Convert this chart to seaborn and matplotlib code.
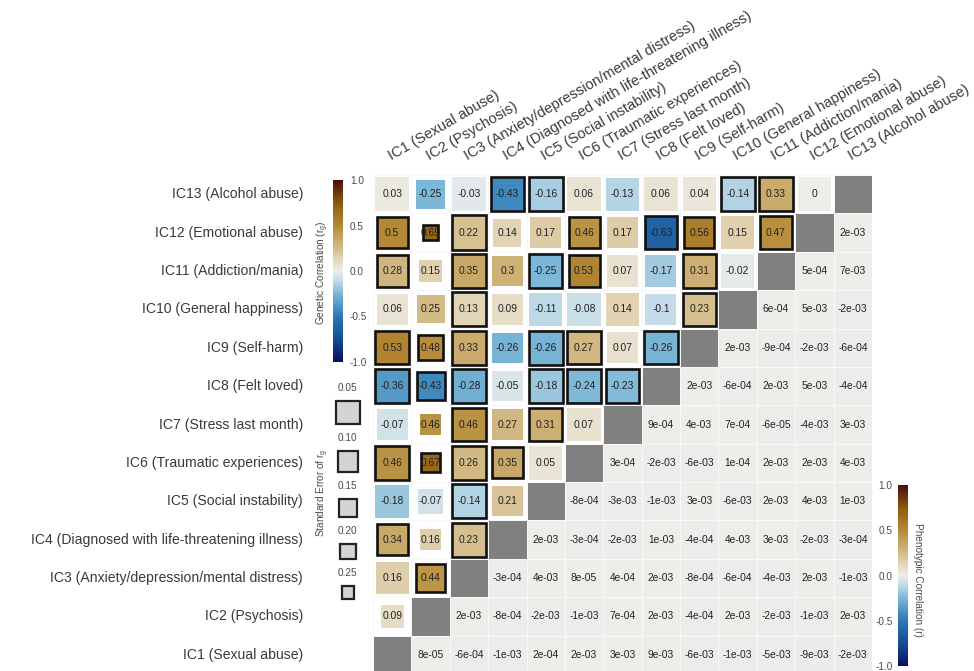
import numpy as np
import pandas as pd
import matplotlib
matplotlib.use("Agg")
import matplotlib.pyplot as plt
import seaborn as sns
from matplotlib.colors import LinearSegmentedColormap, ListedColormap, Normalize
from matplotlib.patches import Rectangle
from matplotlib.transforms import blended_transform_factory
from matplotlib.cm import ScalarMappable

# ---------------------------------------------------------------- data
traits = [
    "IC1 (Sexual abuse)",
    "IC2 (Psychosis)",
    "IC3 (Anxiety/depression/mental distress)",
    "IC4 (Diagnosed with life-threatening illness)",
    "IC5 (Social instability)",
    "IC6 (Traumatic experiences)",
    "IC7 (Stress last month)",
    "IC8 (Felt loved)",
    "IC9 (Self-harm)",
    "IC10 (General happiness)",
    "IC11 (Addiction/mania)",
    "IC12 (Emotional abuse)",
    "IC13 (Alcohol abuse)",
]

# genetic correlations: row k holds IC(k+2) against IC1 .. IC(k+1)
rg_rows = [
    [0.09],
    [0.16, 0.44],
    [0.34, 0.16, 0.23],
    [-0.18, -0.07, -0.14, 0.21],
    [0.46, 0.67, 0.26, 0.35, 0.05],
    [-0.07, 0.46, 0.46, 0.27, 0.31, 0.07],
    [-0.36, -0.43, -0.28, -0.05, -0.18, -0.24, -0.23],
    [0.53, 0.48, 0.33, -0.26, -0.26, 0.27, 0.07, -0.26],
    [0.06, 0.25, 0.13, 0.09, -0.11, -0.08, 0.14, -0.1, 0.23],
    [0.28, 0.15, 0.35, 0.3, -0.25, 0.53, 0.07, -0.17, 0.31, -0.02],
    [0.5, 0.69, 0.22, 0.14, 0.17, 0.46, 0.17, -0.63, 0.56, 0.15, 0.47],
    [0.03, -0.25, -0.03, -0.43, -0.16, 0.06, -0.13, 0.06, 0.04, -0.14, 0.33, 0],
]

# standard errors of the genetic correlations (same layout)
rg_se_rows = [
    [0.18],
    [0.05, 0.10],
    [0.07, 0.20, 0.03],
    [0.04, 0.15, 0.03, 0.08],
    [0.04, 0.23, 0.03, 0.07, 0.04],
    [0.07, 0.20, 0.04, 0.08, 0.04, 0.04],
    [0.04, 0.11, 0.03, 0.08, 0.03, 0.04, 0.04],
    [0.04, 0.15, 0.03, 0.08, 0.03, 0.04, 0.07, 0.04],
    [0.07, 0.11, 0.03, 0.07, 0.04, 0.04, 0.05, 0.07, 0.04],
    [0.07, 0.18, 0.03, 0.08, 0.04, 0.07, 0.07, 0.07, 0.04, 0.04],
    [0.07, 0.28, 0.03, 0.11, 0.07, 0.07, 0.07, 0.05, 0.08, 0.04, 0.05],
    [0.04, 0.10, 0.03, 0.04, 0.03, 0.04, 0.05, 0.04, 0.04, 0.03, 0.03, 0.04],
]

# significance of the genetic correlations (1 = significant)
rg_sig_rows = [
    [0],
    [0, 1],
    [1, 0, 1],
    [0, 0, 1, 0],
    [1, 1, 1, 1, 0],
    [0, 0, 1, 0, 1, 0],
    [1, 1, 1, 0, 1, 1, 1],
    [1, 1, 1, 0, 1, 1, 0, 1],
    [0, 0, 1, 0, 0, 0, 0, 0, 1],
    [1, 0, 1, 0, 1, 1, 0, 0, 1, 0],
    [1, 1, 1, 0, 0, 1, 0, 1, 1, 0, 1],
    [0, 0, 0, 1, 1, 0, 0, 0, 0, 1, 1, 0],
]

# phenotypic correlations: row k holds IC(k+1) against IC(k+2) .. IC13
rp_rows = [
    [8e-05, -6e-04, -1e-03, 2e-04, 2e-03, 3e-03, 9e-03, -6e-03, -1e-03, -5e-03, -9e-03, -2e-03],
    [2e-03, -8e-04, -2e-03, -1e-03, 7e-04, 2e-03, -4e-04, 2e-03, -2e-03, -1e-03, 2e-03],
    [-3e-04, 4e-03, 8e-05, 4e-04, 2e-03, -8e-04, -6e-04, -4e-03, 2e-03, -1e-03],
    [2e-03, -3e-04, -2e-03, 1e-03, -4e-04, 4e-03, 3e-03, -2e-03, -3e-04],
    [-8e-04, -3e-03, -1e-03, 3e-03, -6e-03, 2e-03, 4e-03, 1e-03],
    [3e-04, -2e-03, -6e-03, 1e-04, 2e-03, 2e-03, 4e-03],
    [9e-04, 4e-03, 7e-04, -6e-05, -4e-03, 3e-03],
    [2e-03, -6e-04, 2e-03, 5e-03, -4e-04],
    [2e-03, -9e-04, -2e-03, -6e-04],
    [6e-04, 5e-03, -2e-03],
    [5e-04, 7e-03],
    [2e-03],
]

se_legend = [0.05, 0.10, 0.15, 0.20, 0.25]
cbar_ticks = [-1.0, -0.5, 0.0, 0.5, 1.0]

# ---------------------------------------------------------------- style
sns.set_theme(style="white")
plt.rcParams["font.family"] = ["Liberation Sans", "DejaVu Sans"]
plt.rcParams["mathtext.default"] = "regular"

LABEL_C = "#3a3a3a"
TICK_C = "#4a4a4a"

cmap = LinearSegmentedColormap.from_list(
    "rg_div",
    [
        (0.000, "#0a1060"),
        (0.125, "#174d93"),
        (0.250, "#2a79b3"),
        (0.375, "#7ab6d6"),
        (0.450, "#c4dce8"),
        (0.500, "#eeeeeb"),
        (0.550, "#e6dbc3"),
        (0.625, "#d4bb88"),
        (0.750, "#b58a36"),
        (0.875, "#8c5a0c"),
        (1.000, "#4d0d0b"),
    ],
)
norm = Normalize(vmin=-1, vmax=1)

W, H = 974, 671
fig = plt.figure(figsize=(W / 100, H / 100), dpi=100)


def px_box(x0, y0, x1, y1):
    """Figure-fraction rectangle from pixel corners (origin top-left)."""
    return [x0 / W, 1 - y1 / H, (x1 - x0) / W, (y1 - y0) / H]


GRID_L, GRID_T, GRID_R = 373, 175, 872
GRID_B = GRID_T + (GRID_R - GRID_L)
cell_px = (GRID_R - GRID_L) / len(traits)

ax = fig.add_axes(px_box(GRID_L, GRID_T, GRID_R, GRID_B))
pcax = fig.add_axes(px_box(898, 485, 908, 666))
gcax = fig.add_axes(px_box(333, 180, 343, 362))

n = len(traits)
disp = traits[::-1]  # top row is IC13

# phenotypic matrix (upper-right triangle in display)
P = np.full((n, n), np.nan)
for k, vals in enumerate(rp_rows):
    for j, v in enumerate(vals):
        P[n - 1 - k, k + 1 + j] = v
P_df = pd.DataFrame(P, index=disp, columns=traits)
P_annot = np.where(np.isnan(P), "", np.vectorize(lambda v: f"{v:.0e}")(np.nan_to_num(P)))

sns.heatmap(
    P_df, ax=ax, cmap=cmap, vmin=-1, vmax=1, mask=np.isnan(P),
    annot=P_annot, fmt="", annot_kws={"fontsize": 7.4, "color": "#222222"},
    linewidths=0.7, linecolor="#f8f8f8", cbar_ax=pcax, square=False,
    xticklabels=False, yticklabels=False,
)

# diagonal tiles
D = np.full((n, n), np.nan)
for i in range(n):
    D[n - 1 - i, i] = 1.0
sns.heatmap(
    pd.DataFrame(D, index=disp, columns=traits), ax=ax,
    cmap=ListedColormap(["#808080"]), mask=np.isnan(D), cbar=False,
    linewidths=0.7, linecolor="#f8f8f8", xticklabels=False, yticklabels=False,
)

# genetic correlation squares (lower-left triangle in display)
for k, vals in enumerate(rg_rows):
    trait_i = k + 1
    row = n - 1 - trait_i
    for c, v in enumerate(vals):
        se = rg_se_rows[k][c]
        sig = rg_sig_rows[k][c]
        s = 0.95 - 2.0 * se
        ax.add_patch(Rectangle(
            (c + 0.5 - s / 2, row + 0.5 - s / 2), s, s,
            facecolor=cmap(norm(v)),
            edgecolor="#111111" if sig else "none",
            linewidth=1.9 if sig else 0, zorder=3,
        ))
        ax.text(c + 0.5, row + 0.5, f"{v:g}", ha="center", va="center",
                fontsize=7.4, color="#222222", zorder=4)

ax.set_xlim(0, n)
ax.set_ylim(n, 0)
ax.set_xticks([])
ax.set_yticks([])
for sp in ax.spines.values():
    sp.set_visible(False)

# row labels
tr = blended_transform_factory(fig.transFigure, ax.transData)
for i, name in enumerate(disp):
    ax.text(303 / W, i + 0.5, name, transform=tr, ha="right", va="center",
            fontsize=10.1, color=LABEL_C)

# column labels
for j, name in enumerate(traits):
    ax.text(j + 0.47, -0.39, name, rotation=30, rotation_mode="anchor",
            ha="left", va="baseline", fontsize=10.5, color=LABEL_C)

# phenotypic colorbar
pcb = ax.collections[0].colorbar
pcb.set_ticks(cbar_ticks)
pcb.set_ticklabels([f"{t:.1f}" for t in cbar_ticks])
pcb.outline.set_visible(False)
pcax.yaxis.set_ticks_position("left")
pcax.tick_params(length=0, pad=4, labelsize=7.2, labelcolor=TICK_C)
fig.text(918 / W, 1 - 580 / H, "Phenotypic Correlation (r)", rotation=270,
         ha="center", va="center", fontsize=7.2, color=TICK_C)

# genetic colorbar
gcb = fig.colorbar(ScalarMappable(norm=norm, cmap=cmap), cax=gcax)
gcb.set_ticks(cbar_ticks)
gcb.set_ticklabels([f"{t:.1f}" for t in cbar_ticks])
gcb.outline.set_visible(False)
gcax.yaxis.set_ticks_position("right")
gcax.tick_params(length=0, pad=5, labelsize=7.2, labelcolor=TICK_C)
fig.text(323 / W, 1 - 273 / H, "Genetic Correlation (r$_g$)", rotation=90,
         ha="center", va="center", fontsize=7.2, color=TICK_C)

# standard-error size legend
lax = fig.add_axes(px_box(300, 375, 380, 612))
lax.set_xlim(300, 380)
lax.set_ylim(612, 375)
lax.axis("off")
y = 388
for se in se_legend:
    side = cell_px * (0.95 - 2.0 * se) * 0.72
    lax.text(347, y, f"{se:.2f}", ha="center", va="center", fontsize=7.2,
             color=TICK_C)
    top = y + 13
    lax.add_patch(Rectangle((348 - side / 2, top), side, side,
                            facecolor="#d3d3d3", edgecolor="#222222",
                            linewidth=1.6))
    y = top + side + 14
fig.text(323 / W, 1 - 493 / H, "Standard Error of r$_g$", rotation=90,
         ha="center", va="center", fontsize=7.2, color=TICK_C)

fig.savefig("out.png", dpi=100, facecolor="white")
